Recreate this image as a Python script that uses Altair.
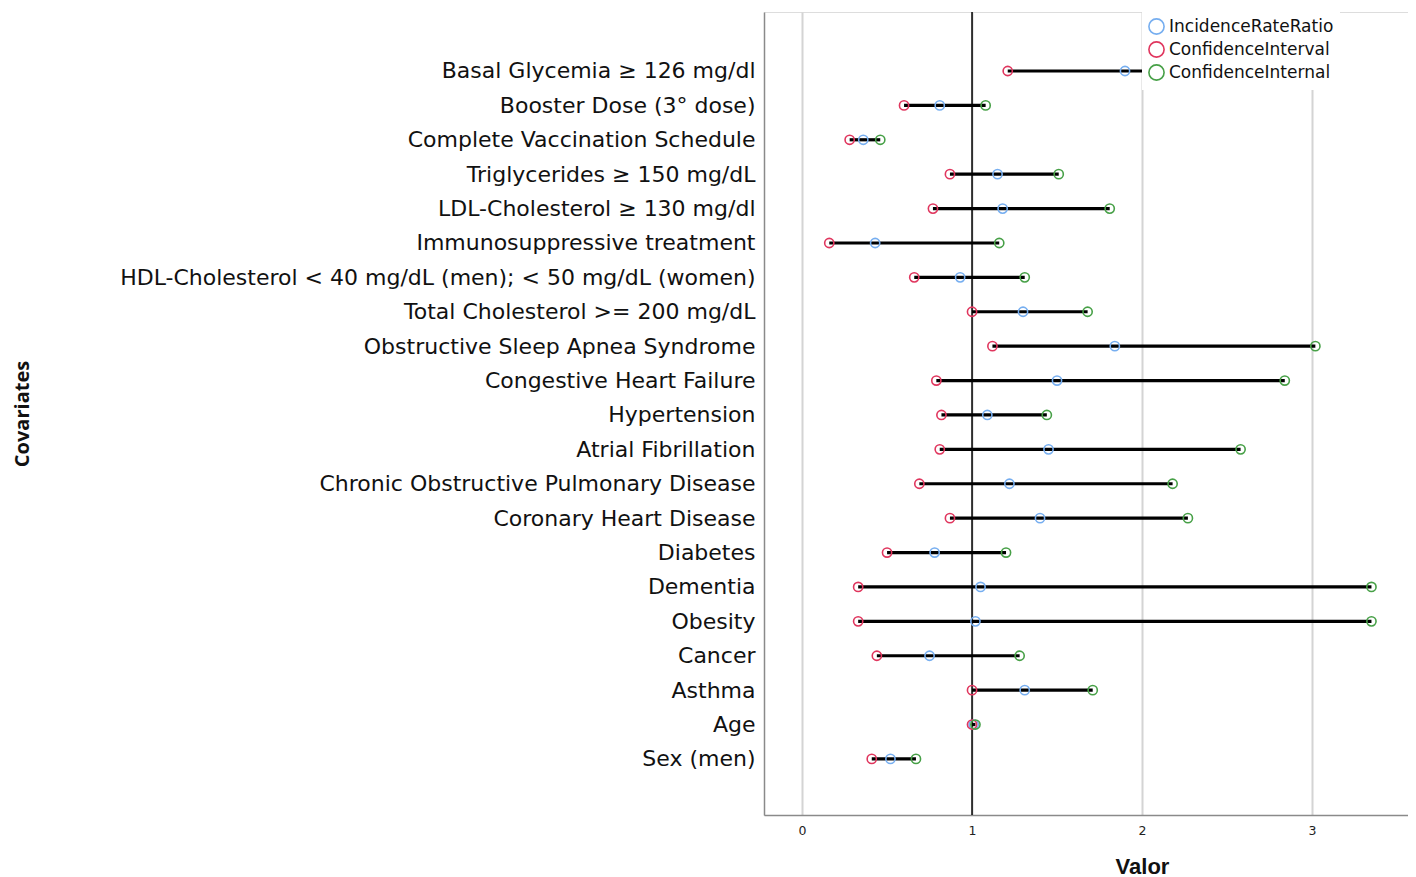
import json
import altair as alt
import pandas as pd

covariates = [
    "Basal Glycemia ≥ 126 mg/dl",
    "Booster Dose (3° dose)",
    "Complete Vaccination Schedule",
    "Triglycerides ≥ 150 mg/dL",
    "LDL-Cholesterol ≥ 130 mg/dl",
    "Immunosuppressive treatment",
    "HDL-Cholesterol < 40 mg/dL (men); < 50 mg/dL (women)",
    "Total Cholesterol >= 200 mg/dL",
    "Obstructive Sleep Apnea Syndrome",
    "Congestive Heart Failure",
    "Hypertension",
    "Atrial Fibrillation",
    "Chronic Obstructive Pulmonary Disease",
    "Coronary Heart Disease",
    "Diabetes",
    "Dementia",
    "Obesity",
    "Cancer",
    "Asthma",
    "Age",
    "Sex (men)",
]
irr = [1.90, 0.81, 0.36, 1.15, 1.18, 0.43, 0.93, 1.30, 1.84, 1.50, 1.09,
       1.45, 1.22, 1.40, 0.78, 1.05, 1.02, 0.75, 1.31, 1.01, 0.52]
lower = [1.21, 0.60, 0.28, 0.87, 0.77, 0.16, 0.66, 1.00, 1.12, 0.79, 0.82,
         0.81, 0.69, 0.87, 0.50, 0.33, 0.33, 0.44, 1.00, 1.00, 0.41]
upper = [2.60, 1.08, 0.46, 1.51, 1.81, 1.16, 1.31, 1.68, 3.02, 2.84, 1.44,
         2.58, 2.18, 2.27, 1.20, 3.35, 3.35, 1.28, 1.71, 1.02, 0.67]
series = ["IncidenceRateRatio", "ConfidenceInterval", "ConfidenceInternal"]
colors = ["#76aef0", "#e0365e", "#47a047"]
x_ticks = [0, 1, 2, 3]
ref_value = [1]

row_idx = list(range(len(covariates)))
wide = pd.DataFrame({"cov": covariates, "idx": row_idx, "IncidenceRateRatio": irr,
                     "ConfidenceInterval": lower, "ConfidenceInternal": upper})
long = wide.melt(id_vars=["cov", "idx"], var_name="series", value_name="value")

xscale = alt.Scale(domain=[-0.224, 3.565], nice=False, zero=False)
yscale = alt.Scale(domain=[21.63, -1.715], nice=False, zero=False)
label_expr = json.dumps(covariates, ensure_ascii=False) + "[datum.value]"

x_axis = alt.Axis(values=x_ticks, grid=True, gridColor="#d4d4d4", gridWidth=2,
                  ticks=False, labelFontSize=12.5, labelColor="#222",
                  labelFont="DejaVu Sans", labelPadding=9,
                  domainColor="#8a8a8a", domainWidth=1.5,
                  title="Valor", titleFont="Liberation Sans", titleFontSize=22,
                  titleFontWeight="bold", titleX=378, titleY=51,
                  titleBaseline="middle", titleColor="#111")
y_axis = alt.Axis(values=row_idx, labelExpr=label_expr, grid=False,
                  ticks=False, labelFontSize=22, labelFont="DejaVu Sans",
                  labelColor="#111", labelPadding=9, labelLimit=1000,
                  domainColor="#8a8a8a", domainWidth=1.5,
                  title="Covariates", titleFont="Open Sans", titleFontSize=20,
                  titleFontWeight="bold", titleX=-742, titleBaseline="middle",
                  titleColor="#111")

ref = alt.Chart(pd.DataFrame({"v": ref_value})).mark_rule(color="black", strokeWidth=1.5).encode(
    x=alt.X("v:Q", scale=xscale, axis=x_axis)
)

rules = alt.Chart(wide).mark_rule(color="black", strokeWidth=3.2).encode(
    x=alt.X("ConfidenceInterval:Q", scale=xscale, axis=x_axis),
    x2="ConfidenceInternal:Q",
    y=alt.Y("idx:Q", scale=yscale, axis=y_axis),
)

points = alt.Chart(long).mark_point(filled=False, size=85, strokeWidth=1.6, opacity=1).encode(
    x=alt.X("value:Q", scale=xscale, axis=x_axis),
    y=alt.Y("idx:Q", scale=yscale, axis=y_axis),
    color=alt.Color("series:N", sort=series,
                    scale=alt.Scale(domain=series, range=colors),
                    legend=alt.Legend(title=None, orient="none", legendX=378, legendY=0,
                                      fillColor="white", padding=6, symbolType="circle",
                                      symbolSize=230, symbolStrokeWidth=1.6,
                                      symbolFillColor="transparent",
                                      labelFont="DejaVu Sans", labelFontSize=17,
                                      labelColor="#111", rowPadding=0,
                                      labelOffset=4, labelLimit=600)),
)

chart = alt.layer(ref, rules, points).properties(
    width=644, height=803,
    autosize=alt.AutoSizeParams(type="none"),
    padding={"left": 756, "top": 4, "right": 0, "bottom": 62},
).configure_view(stroke=None).configure(background="white")

chart.save("out.html", embed_options={"renderer": "svg", "actions": False})
